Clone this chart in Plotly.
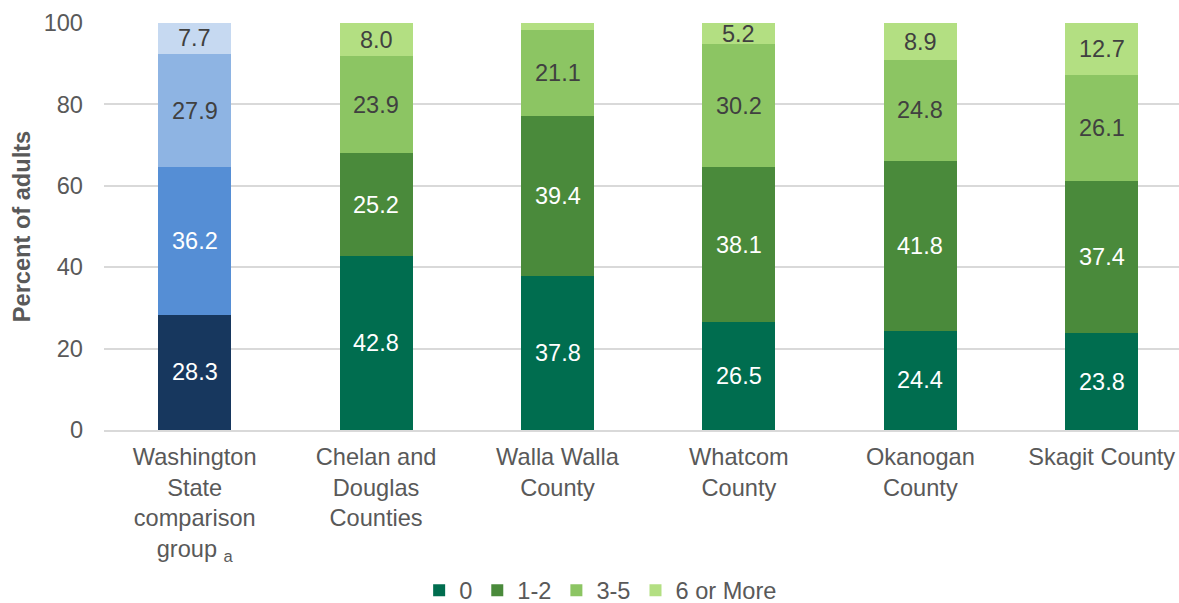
import plotly.graph_objects as go

categories = ["Washington<br>State<br>comparison<br>group <sub>a</sub>", "Chelan and<br>Douglas<br>Counties",
              "Walla Walla<br>County", "Whatcom<br>County", "Okanogan<br>County", "Skagit County"]
series_names = ["0", "1-2", "3-5", "6 or More"]
wa_values = [28.3, 36.2, 27.9, 7.7]
county_values = {
    "0": [42.8, 37.8, 26.5, 24.4, 23.8],
    "1-2": [25.2, 39.4, 38.1, 41.8, 37.4],
    "3-5": [23.9, 21.1, 30.2, 24.8, 26.1],
    "6 or More": [8.0, 1.7, 5.2, 8.9, 12.7],
}
county_labels = {
    "0": ["42.8", "37.8", "26.5", "24.4", "23.8"],
    "1-2": ["25.2", "39.4", "38.1", "41.8", "37.4"],
    "3-5": ["23.9", "21.1", "30.2", "24.8", "26.1"],
    "6 or More": ["8.0", "", "5.2", "8.9", "12.7"],
}
wa_colors = ["#17375E", "#558ED5", "#8EB4E3", "#C6D9F1"]
green_colors = ["#006D4F", "#4A8A3B", "#8CC563", "#B3DF82"]
label_colors = ["white", "white", "#404040", "#404040"]
FONT = "Liberation Sans, Arial"
FS = 23.6
FS_LAB = 23.5

fig = go.Figure()
annotations = []

# Washington State comparison group (blue, not in legend)
base = 0.0
for i, name in enumerate(series_names):
    v = wa_values[i]
    fig.add_trace(go.Bar(
        x=[categories[0]], y=[v], name=name, showlegend=False,
        marker=dict(color=wa_colors[i], line=dict(width=0)),
        hoverinfo="skip", legendgroup=name,
    ))
    annotations.append(dict(x=categories[0], y=base + v / 2, text=f"{v:.1f}", showarrow=False,
                            xref="x", yref="y", font=dict(color=label_colors[i], size=FS_LAB, family=FONT)))
    base += v

# Counties (green)
bases = [0.0] * (len(categories) - 1)
for i, name in enumerate(series_names):
    vals = county_values[name]
    fig.add_trace(go.Bar(
        x=categories[1:], y=vals, name=name,
        marker=dict(color=green_colors[i], line=dict(width=0)),
        hoverinfo="skip", legendgroup=name,
    ))
    for j, v in enumerate(vals):
        lab = county_labels[name][j]
        if lab:
            annotations.append(dict(x=categories[j + 1], y=bases[j] + v / 2, text=lab, showarrow=False,
                                    xref="x", yref="y",
                                    font=dict(color=label_colors[i], size=FS_LAB, family=FONT)))
        bases[j] += v

fig.update_layout(
    barmode="stack", bargap=0.598,
    width=1179, height=603,
    margin=dict(l=104, r=0, t=23, b=173, autoexpand=False),
    plot_bgcolor="white", paper_bgcolor="white",
    font=dict(family=FONT, color="#595959", size=FS),
    annotations=annotations,
    legend=dict(orientation="h", x=0.462, xanchor="center", y=-0.394, yanchor="middle",
                font=dict(size=FS, color="#595959"), traceorder="normal", itemwidth=30,
                tracegroupgap=0),
    xaxis=dict(categoryorder="array", categoryarray=categories, range=[-0.5, 5.426],
               tickfont=dict(size=FS, color="#595959"),
               showline=True, linecolor="#D9D9D9", linewidth=1.5, ticks="", ticklabelstandoff=5),
    yaxis=dict(range=[0, 100], dtick=20, showgrid=True, gridcolor="#D9D9D9", gridwidth=1.5,
               zeroline=False, tickfont=dict(size=FS, color="#595959"), ticks="", ticklabelstandoff=20,
               title=dict(text="<b>Percent of adults</b>", font=dict(size=FS, color="#595959"), standoff=6)),
)
fig.write_html("out.html", config={"displayModeBar": False},
               post_script="document.body.style.margin='0';document.body.style.overflow='hidden';")
